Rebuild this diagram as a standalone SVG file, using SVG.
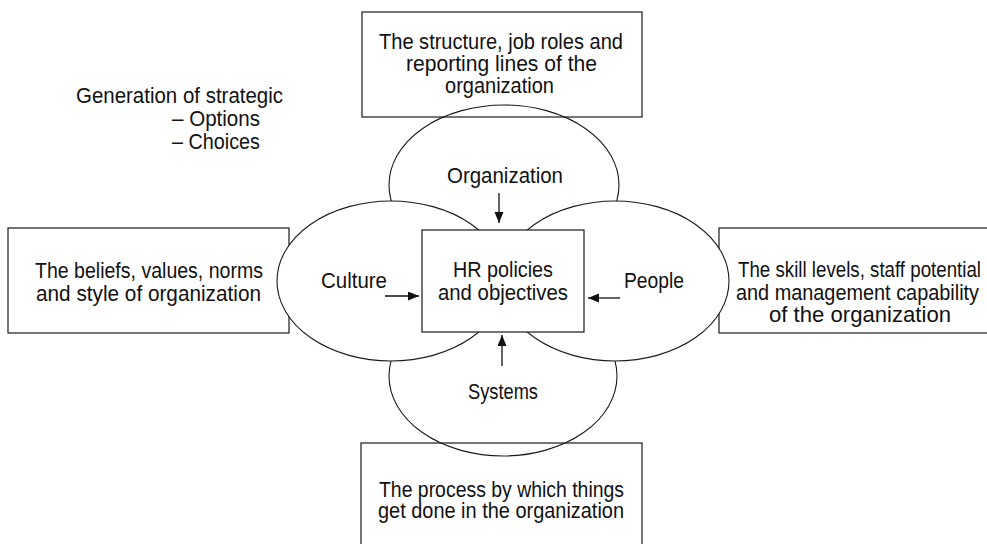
<svg xmlns="http://www.w3.org/2000/svg" width="987" height="544" viewBox="0 0 987 544">
<style>
.box{fill:none;stroke:#1a1a1a;stroke-width:1.2}
.ell{fill:#fff;stroke:#1a1a1a;stroke-width:1.1}
.cbox{fill:#fff;stroke:#1a1a1a;stroke-width:1.2}
text{font-family:"Liberation Sans",Arial,sans-serif;font-size:22px;fill:#111}
.con{stroke:#111;stroke-width:1.3;fill:none;marker-end:url(#ah)}
</style>
<defs>
<marker id="ah" markerUnits="userSpaceOnUse" markerWidth="12" markerHeight="10" refX="11" refY="4.5" orient="auto">
<path d="M0,0 L11,4.5 L0,9 z" fill="#111"/>
</marker>
</defs>
<rect width="987" height="544" fill="#fff"/>
<g id="beliefs-box">
<rect class="box" x="8" y="228" width="281" height="105"/>
<text x="35" y="278" textLength="228" lengthAdjust="spacingAndGlyphs">The beliefs, values, norms</text>
<text x="36" y="301" textLength="225" lengthAdjust="spacingAndGlyphs">and style of organization</text>
</g>
<g id="skills-box">
<rect class="box" x="719" y="228" width="290" height="105"/>
<text x="738" y="277" textLength="243" lengthAdjust="spacingAndGlyphs">The skill levels, staff potential</text>
<text x="736" y="300" textLength="243" lengthAdjust="spacingAndGlyphs">and management capability</text>
<text x="769" y="322" textLength="182" lengthAdjust="spacingAndGlyphs">of the organization</text>
</g>
<g id="organization">
<ellipse class="ell" cx="504" cy="185" rx="115" ry="80"/>
</g>
<g id="systems">
<ellipse class="ell" cx="503" cy="376" rx="114" ry="80"/>
</g>
<g id="culture">
<ellipse class="ell" cx="391" cy="281" rx="114" ry="80"/>
</g>
<g id="people">
<ellipse class="ell" cx="615" cy="281" rx="114" ry="80"/>
</g>
<g id="hr-policies">
<rect class="cbox" x="422" y="230" width="162" height="102"/>
<text x="453" y="277" textLength="100" lengthAdjust="spacingAndGlyphs">HR policies</text>
<text x="438" y="300" textLength="130" lengthAdjust="spacingAndGlyphs">and objectives</text>
</g>
<g id="ellipse-labels">
<text x="447" y="183" textLength="116" lengthAdjust="spacingAndGlyphs">Organization</text>
<text x="321" y="288" textLength="66" lengthAdjust="spacingAndGlyphs">Culture</text>
<text x="624" y="288" textLength="60" lengthAdjust="spacingAndGlyphs">People</text>
<text x="468" y="399" textLength="70" lengthAdjust="spacingAndGlyphs">Systems</text>
</g>
<g id="structure-box">
<rect class="box" x="362" y="12" width="280" height="105"/>
<text x="379" y="49" textLength="244" lengthAdjust="spacingAndGlyphs">The structure, job roles and</text>
<text x="406" y="71" textLength="191" lengthAdjust="spacingAndGlyphs">reporting lines of the</text>
<text x="445" y="93" textLength="109" lengthAdjust="spacingAndGlyphs">organization</text>
</g>
<g id="process-box">
<rect class="box" x="361" y="443" width="281" height="120"/>
<text x="379" y="497" textLength="245" lengthAdjust="spacingAndGlyphs">The process by which things</text>
<text x="378" y="518" textLength="246" lengthAdjust="spacingAndGlyphs">get done in the organization</text>
</g>
<g id="strategic-note">
<text x="76" y="103" textLength="207" lengthAdjust="spacingAndGlyphs">Generation of strategic</text>
<text x="172" y="126" textLength="88" lengthAdjust="spacingAndGlyphs">– Options</text>
<text x="172" y="149" textLength="88" lengthAdjust="spacingAndGlyphs">– Choices</text>
</g>
<g id="connectors">
<line class="con" x1="499" y1="193" x2="499" y2="223"/>
<line class="con" x1="385" y1="296" x2="419" y2="296"/>
<line class="con" x1="620" y1="298" x2="588" y2="298"/>
<line class="con" x1="502" y1="366" x2="502" y2="335"/>
</g>
</svg>
